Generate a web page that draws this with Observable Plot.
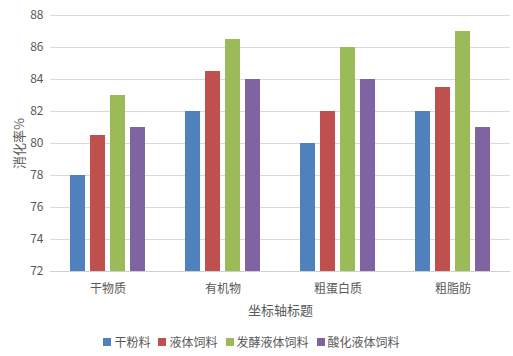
<!DOCTYPE html>
<html><head><meta charset="utf-8">
<script src="https://cdn.jsdelivr.net/npm/d3@7"></script>
<script src="https://cdn.jsdelivr.net/npm/@observablehq/plot@0.6"></script>
<style>
body{margin:0;background:#fff;font-family:"Noto Sans CJK SC","Noto Sans",sans-serif;}
#legend{display:flex;justify-content:center;gap:8px;font-size:12px;color:#595959;margin-top:8px;padding-right:10px;}
#legend span.item{display:flex;align-items:center;gap:3px;}
#legend i{display:inline-block;width:8px;height:8px;}
</style></head>
<body><div id="chart"></div><div id="legend"></div>
<script>
const categories = ["干物质","有机物","粗蛋白质","粗脂肪"];
const series = ["干粉料","液体饲料","发酵液体饲料","酸化液体饲料"];
const dryFeed = [78, 82, 80, 82];
const liquidFeed = [80.5, 84.5, 82, 83.5];
const fermentedFeed = [83, 86.5, 86, 87];
const acidifiedFeed = [81, 84, 84, 81];
const colors = ["#4F81BD","#C0504D","#9BBB59","#8064A2"];
const yTicks = [72,74,76,78,80,82,84,86,88];

const allValues = [dryFeed, liquidFeed, fermentedFeed, acidifiedFeed];
const data = [];
categories.forEach((c, i) => series.forEach((s, j) => data.push({category: c, series: s, value: allValues[j][i]})));

const chart = Plot.plot({
  width: 513, height: 325,
  marginTop: 15, marginBottom: 54, marginLeft: 50, marginRight: 3,
  style: {fontFamily: '"Noto Sans CJK SC","Noto Sans",sans-serif', color: "#595959"},
  fx: {domain: categories, padding: 0},
  x: {domain: series, paddingInner: 0.24, paddingOuter: 0.86, axis: null},
  y: {domain: [72, 88], ticks: yTicks},
  color: {domain: series, range: colors},
  marks: [
    Plot.gridY(yTicks, {stroke: "#d9d9d9", strokeOpacity: 1}),
    Plot.axisY(yTicks, {tickSize: 0, tickPadding: 7, fontSize: 12, label: "消化率%", labelAnchor: "center", labelOffset: 36, labelArrow: "none"}),
    Plot.axisFx({anchor: "bottom", tickSize: 0, tickPadding: 13, fontSize: 12, label: "坐标轴标题", labelAnchor: "center", labelOffset: 43, labelArrow: "none"}),
    Plot.barY(data, {fx: "category", x: "series", y1: 72, y2: "value", fill: "series"}),
    Plot.ruleY([72], {stroke: "#d0d0d0"})
  ]
});
document.getElementById("chart").appendChild(chart);
chart.querySelectorAll("[aria-label='y-axis label'] text, [aria-label='fx-axis label'] text").forEach(t => t.setAttribute("font-size", 13));
const lg = document.getElementById("legend");
series.forEach((s, j) => {
  const it = document.createElement("span"); it.className = "item";
  it.innerHTML = `<i style="background:${colors[j]}"></i>${s}`;
  lg.appendChild(it);
});
</script></body></html>
